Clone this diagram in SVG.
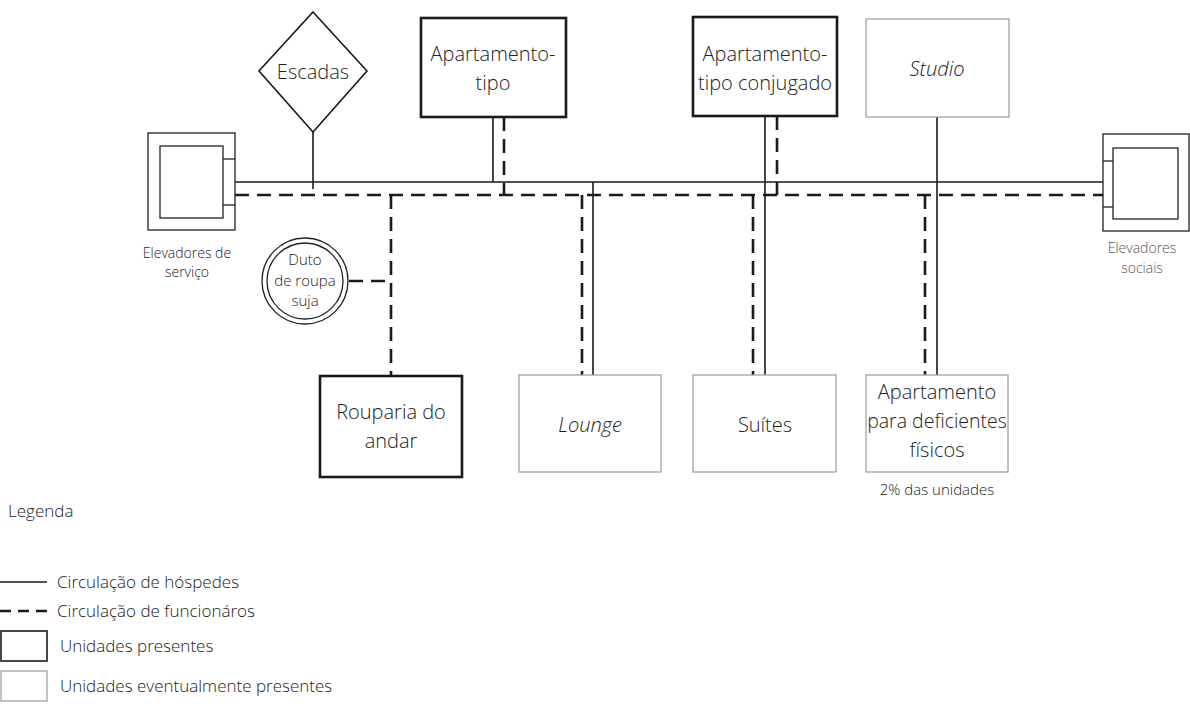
<svg xmlns="http://www.w3.org/2000/svg" width="1190" height="718" viewBox="0 0 1190 718">
<style>
  text { font-family: "Open Sans", "Noto Sans", "Liberation Sans", sans-serif; fill: #222; font-weight: 300; }
  .lbl { font-size: 20px; text-anchor: middle; }
  .sm { font-size: 14px; text-anchor: middle; }
  .duto { font-size: 15px; text-anchor: middle; }
  .it { font-style: italic; }
  .leg { font-size: 17px; }
  .present { fill: #fff; stroke: #1a1a1a; stroke-width: 2.6; }
  .eventual { fill: #fff; stroke: #9a9aa6; stroke-width: 1.2; }
  .thin { fill: #fff; stroke: #222; stroke-width: 1.3; }
  .solid { fill: none; stroke: #1a1a1a; stroke-width: 1.6; }
  .dash { fill: none; stroke: #1a1a1a; stroke-width: 2.6; stroke-dasharray: 14 8; }
</style>
<rect width="1190" height="718" fill="#fff"/>

<g id="connectors">
  <line class="solid" x1="235" y1="182" x2="1103" y2="182"/>
  <line class="dash" x1="235" y1="195" x2="1103" y2="195"/>
  <line class="solid" x1="313" y1="132" x2="313" y2="189"/>
  <line class="solid" x1="493" y1="117" x2="493" y2="182"/>
  <line class="dash" x1="504" y1="117" x2="504" y2="195"/>
  <line class="solid" x1="765" y1="116" x2="765" y2="375"/>
  <line class="dash" x1="777" y1="116" x2="777" y2="195"/>
  <line class="solid" x1="937" y1="117" x2="937" y2="375"/>
  <line class="dash" x1="391" y1="195" x2="391" y2="376"/>
  <line class="dash" x1="349" y1="281" x2="391" y2="281"/>
  <line class="dash" x1="582" y1="195" x2="582" y2="375"/>
  <line class="solid" x1="593" y1="182" x2="593" y2="375"/>
  <line class="dash" x1="753" y1="195" x2="753" y2="375"/>
  <line class="dash" x1="925" y1="195" x2="925" y2="375"/>
</g>

<g id="elevadores-servico">
  <rect class="thin" x="148" y="133" width="87" height="97"/>
  <rect class="thin" x="160" y="146" width="63" height="72"/>
  <line class="thin" x1="223" y1="159" x2="235" y2="159"/>
  <line class="thin" x1="223" y1="205" x2="235" y2="205"/>
  <text class="sm" x="187" y="258">Elevadores de</text>
  <text class="sm" x="187" y="277">serviço</text>
</g>

<g id="elevadores-sociais">
  <rect class="thin" x="1103" y="134" width="86" height="97"/>
  <rect class="thin" x="1113" y="148" width="65" height="71"/>
  <line class="thin" x1="1103" y1="161" x2="1113" y2="161"/>
  <line class="thin" x1="1103" y1="207" x2="1113" y2="207"/>
  <text class="sm" x="1142" y="253" style="fill:#555">Elevadores</text>
  <text class="sm" x="1142" y="273" style="fill:#555">sociais</text>
</g>

<g id="escadas">
  <polygon points="313,12 367,71 313,132 259,71" fill="#fff" stroke="#1a1a1a" stroke-width="1.6"/>
  <text class="lbl" x="313" y="79">Escadas</text>
</g>

<g id="apartamento-tipo">
  <rect class="present" x="421" y="18" width="145" height="99"/>
  <text class="lbl" x="493" y="61">Apartamento-</text>
  <text class="lbl" x="493" y="90">tipo</text>
</g>

<g id="apartamento-tipo-conjugado">
  <rect class="present" x="693" y="17" width="144" height="99"/>
  <text class="lbl" x="765" y="61">Apartamento-</text>
  <text class="lbl" x="765" y="90">tipo conjugado</text>
</g>

<g id="studio">
  <rect class="eventual" x="866" y="19" width="143" height="98"/>
  <text class="lbl it" x="937" y="76">Studio</text>
</g>

<g id="duto">
  <circle cx="305" cy="281" r="43" fill="#fff" stroke="#222" stroke-width="1.3"/>
  <circle cx="305" cy="281" r="38" fill="#fff" stroke="#222" stroke-width="1.3"/>
  <text class="duto" x="305" y="265">Duto</text>
  <text class="duto" x="305" y="286">de roupa</text>
  <text class="duto" x="305" y="306">suja</text>
</g>

<g id="rouparia">
  <rect class="present" x="320" y="376" width="142" height="101"/>
  <text class="lbl" x="391" y="419">Rouparia do</text>
  <text class="lbl" x="391" y="448">andar</text>
</g>

<g id="lounge">
  <rect class="eventual" x="519" y="375" width="142" height="97"/>
  <text class="lbl it" x="590" y="432">Lounge</text>
</g>

<g id="suites">
  <rect class="eventual" x="693" y="375" width="143" height="97"/>
  <text class="lbl" x="765" y="432">Suítes</text>
</g>

<g id="apartamento-deficientes">
  <rect class="eventual" x="866" y="375" width="142" height="97"/>
  <text class="lbl" x="937" y="399">Apartamento</text>
  <text class="lbl" x="937" y="428" style="font-size:19.5px">para deficientes</text>
  <text class="lbl" x="937" y="457">físicos</text>
  <text class="sm" x="937" y="495" style="font-size:15px">2% das unidades</text>
</g>

<g id="legenda">
  <text class="leg" x="8" y="517">Legenda</text>
  <line class="solid" x1="0" y1="582" x2="47" y2="582"/>
  <text class="leg" x="57" y="588">Circulação de hóspedes</text>
  <line x1="0" y1="611" x2="48" y2="611" stroke="#1a1a1a" stroke-width="2.6" stroke-dasharray="11 7"/>
  <text class="leg" x="57" y="617">Circulação de funcionáros</text>
  <rect x="1" y="631" width="46" height="30" fill="#fff" stroke="#1a1a1a" stroke-width="1.6"/>
  <text class="leg" x="60" y="652">Unidades presentes</text>
  <rect x="1" y="671" width="46" height="30" fill="#fff" stroke="#9a9aa6" stroke-width="1.2"/>
  <text class="leg" x="60" y="692">Unidades eventualmente presentes</text>
</g>
</svg>
